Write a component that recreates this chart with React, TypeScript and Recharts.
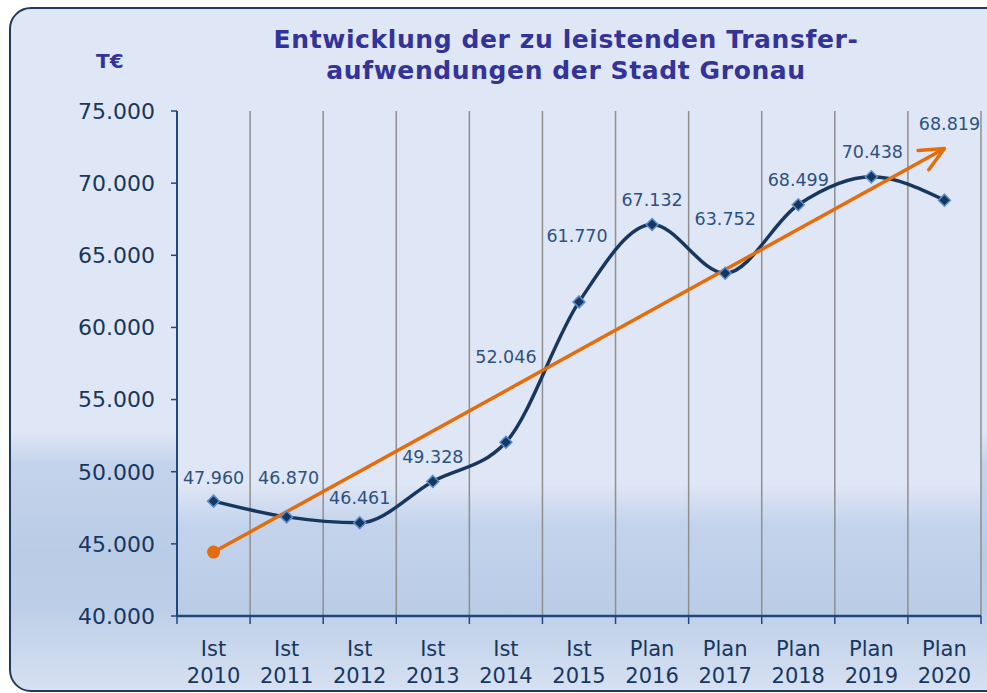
import React from 'react';
import {
  LineChart,
  Line,
  XAxis,
  YAxis,
  CartesianGrid,
  LabelList,
} from 'recharts';

// values in T€
const categories = [
  'Ist 2010',
  'Ist 2011',
  'Ist 2012',
  'Ist 2013',
  'Ist 2014',
  'Ist 2015',
  'Plan 2016',
  'Plan 2017',
  'Plan 2018',
  'Plan 2019',
  'Plan 2020',
];
const transferValues = [47960, 46870, 46461, 49328, 52046, 61770, 67132, 63752, 68499, 70438, 68819];
const trendValues = [44430, null, null, null, null, null, null, null, null, null, 72400];
const yTicks = [40000, 45000, 50000, 55000, 60000, 65000, 70000, 75000];

// hand-placed label nudges from the original (dx, dy relative to the point)
const labelNudge: [number, number][] = [
  [0, -24], [2, -39], [0, -25], [0, -25], [0, -86], [-2, -66],
  [0, -25], [0, -55], [0, -25], [1, -25], [5, -77],
];

const data = categories.map((cat, i) => ({
  cat,
  value: transferValues[i],
  trend: trendValues[i],
}));

const W = 987;
const H = 693;
const PLOT_LEFT = 177;
const PLOT_RIGHT = 981;
const STEP = (PLOT_RIGHT - PLOT_LEFT) / categories.length;

const NAVY = '#17375e';
const AXIS = '#1f497d';
const ORANGE = '#e46c0a';
const FONT = '"DejaVu Sans", Verdana, sans-serif';

const fmt = (v: number) => {
  const s = String(Math.round(v));
  return s.length > 3 ? s.slice(0, -3) + '.' + s.slice(-3) : s;
};

function CategoryTick(props: any) {
  const { x, index, payload } = props;
  const [kind, year] = String(payload.value).split(' ');
  const axisY = 616;
  return (
    <g>
      <line x1={x - STEP / 2} x2={x - STEP / 2} y1={axisY} y2={axisY + 8} stroke={AXIS} strokeWidth={1.5} />
      {index === categories.length - 1 && (
        <line x1={x + STEP / 2} x2={x + STEP / 2} y1={axisY} y2={axisY + 8} stroke={AXIS} strokeWidth={1.5} />
      )}
      <text x={x} y={656} textAnchor="middle" fill={NAVY} fontSize={21} fontFamily={FONT}>
        {kind}
      </text>
      <text x={x} y={683} textAnchor="middle" fill={NAVY} fontSize={21} fontFamily={FONT}>
        {year}
      </text>
    </g>
  );
}

function Diamond(props: any) {
  const { cx, cy, index } = props;
  if (cx == null || cy == null) return <g key={index} />;
  const r = 6;
  return (
    <path
      key={index}
      d={`M ${cx} ${cy - r} L ${cx + r} ${cy} L ${cx} ${cy + r} L ${cx - r} ${cy} Z`}
      fill={NAVY}
      stroke="#5b8fd0"
      strokeWidth={1.5}
    />
  );
}

function TrendStart(props: any) {
  const { cx, cy, index } = props;
  if (index !== 0 || cx == null || cy == null) return <g key={index} />;
  return <circle key={index} cx={cx} cy={cy} r={6.5} fill={ORANGE} />;
}

function ValueLabel(props: any) {
  const { x, y, value, index } = props;
  const [dx, dy] = labelNudge[index] || [0, -25];
  return (
    <text
      x={x + dx}
      y={y + dy + 6.5}
      textAnchor="middle"
      fill="#2c5282"
      fontSize={17.5}
      fontFamily={FONT}
    >
      {fmt(value)}
    </text>
  );
}

export default function App() {
  return (
    <div style={{ position: 'absolute', left: 0, top: 0, width: W, height: H, overflow: 'hidden', fontFamily: FONT }}>
      <div
        style={{
          position: 'absolute',
          left: 9,
          top: 7,
          width: 1000,
          height: 685,
          boxSizing: 'border-box',
          border: '2.5px solid #1f3b5e',
          borderRadius: 22,
          background:
            'linear-gradient(180deg, #dfe6f5 0%, #dfe6f5 62%, #c4d3eb 67%, #b9cce6 80%, #bdcfe8 88%, #d6e0f2 100%)',
        }}
      />
      <div
        style={{
          position: 'absolute',
          left: 266,
          top: 24,
          width: 600,
          textAlign: 'center',
          color: '#333399',
          fontWeight: 'bold',
          fontSize: 25,
          lineHeight: '31px',
          letterSpacing: 0.6,
        }}
      >
        Entwicklung der zu leistenden Transfer-
        <br />
        aufwendungen der Stadt Gronau
      </div>
      <div
        style={{
          position: 'absolute',
          left: 96,
          top: 49,
          color: '#333399',
          fontWeight: 'bold',
          fontSize: 20,
        }}
      >
        T€
      </div>
      <div style={{ position: 'absolute', left: 0, top: 0 }}>
        <LineChart width={W} height={H} data={data} margin={{ top: 111, right: W - PLOT_RIGHT, bottom: 0, left: 0 }}>
          <defs>
            <linearGradient id="plotBg" x1="0" y1="0" x2="0" y2="1">
              <stop offset="0%" stopColor="#dfe6f5" />
              <stop offset="74%" stopColor="#dfe6f5" />
              <stop offset="82%" stopColor="#c3d3ec" />
              <stop offset="100%" stopColor="#b9cce6" />
            </linearGradient>
            <marker
              id="trendArrow"
              markerUnits="userSpaceOnUse"
              markerWidth={40}
              markerHeight={40}
              refX={0}
              refY={0}
              orient="auto"
              overflow="visible"
            >
              <path d="M -24 -11 L 0 0 L -24 11" fill="none" stroke={ORANGE} strokeWidth={3.5} strokeLinecap="round" strokeLinejoin="round" />
            </marker>
          </defs>
          <CartesianGrid
            horizontal={false}
            stroke="#8f8f8f"
            strokeWidth={1.5}
            fill="url(#plotBg)"
            fillOpacity={1}
            verticalCoordinatesGenerator={({ offset }: any) => {
              const left = offset?.left ?? PLOT_LEFT;
              const width = offset?.width ?? PLOT_RIGHT - PLOT_LEFT;
              return categories.map((_, i) => left + ((i + 1) * width) / categories.length);
            }}
          />
          <XAxis
            dataKey="cat"
            height={77}
            interval={0}
            padding={{ left: STEP / 2, right: STEP / 2 }}
            tickLine={false}
            axisLine={{ stroke: AXIS, strokeWidth: 2.5 }}
            tick={<CategoryTick />}
          />
          <YAxis
            width={PLOT_LEFT}
            domain={[40000, 75000]}
            ticks={yTicks}
            tickFormatter={fmt}
            tickSize={6}
            tickMargin={16}
            axisLine={{ stroke: AXIS, strokeWidth: 2 }}
            tickLine={{ stroke: AXIS, strokeWidth: 1.5 }}
            tick={{ fill: NAVY, fontSize: 22, fontFamily: FONT }}
          />
          <Line
            type="monotone"
            dataKey="value"
            stroke={NAVY}
            strokeWidth={3.5}
            dot={<Diamond />}
            activeDot={false}
            isAnimationActive={false}
          >
            <LabelList dataKey="value" content={<ValueLabel />} />
          </Line>
          <Line
            type="linear"
            dataKey="trend"
            connectNulls
            stroke={ORANGE}
            strokeWidth={3.5}
            dot={<TrendStart />}
            activeDot={false}
            markerEnd="url(#trendArrow)"
            isAnimationActive={false}
          />
        </LineChart>
      </div>
    </div>
  );
}
